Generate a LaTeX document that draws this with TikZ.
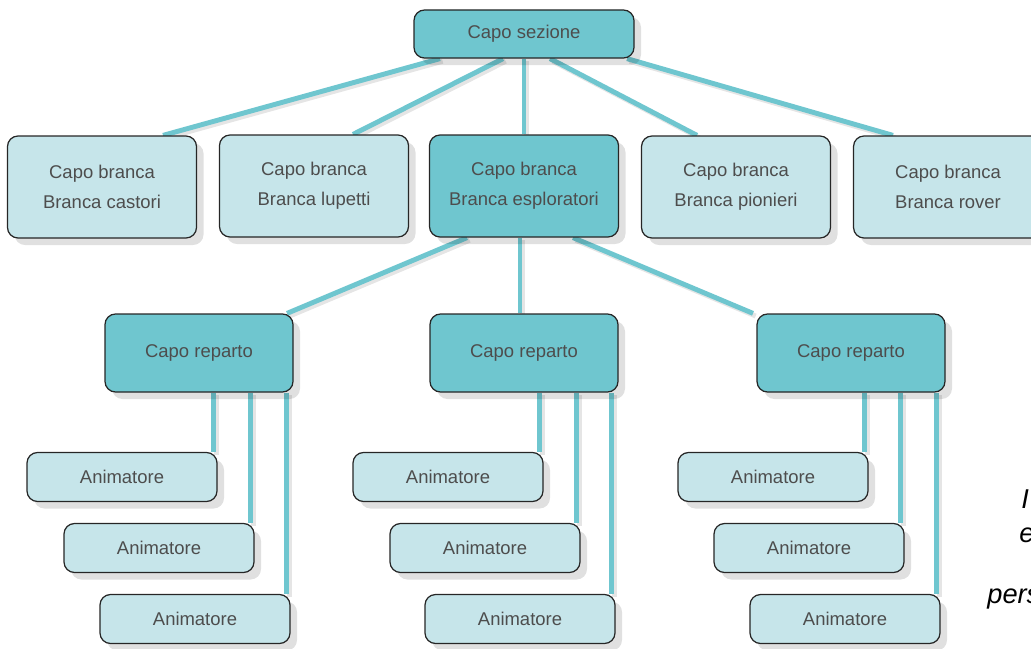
\documentclass[tikz,border=0pt]{standalone}
\usepackage{fontspec}
\setmainfont{Liberation Sans}
\usetikzlibrary{positioning, calc, shadows, backgrounds}
\definecolor{tealdark}{HTML}{6FC6CF}
\definecolor{teallight}{HTML}{C6E5EA}
\definecolor{textgray}{HTML}{4D4D4D}
\tikzset{
every node/.style = {font = \fontsize{10.5}{17}\selectfont, text = textgray},
box/.style = {rectangle, draw = black!85, line width = 0.7pt, rounded corners = 6pt,
	align = center, inner sep = 2pt,
	drop shadow = {shadow xshift = 4pt, shadow yshift = -4pt, fill = black, opacity = 0.12}},
sezione/.style = {box, fill = tealdark, minimum width = 4.4cm, minimum height = 0.96cm},
branca/.style = {box, fill = teallight, minimum width = 3.78cm, minimum height = 2.04cm},
reparto/.style = {box, fill = tealdark, minimum width = 3.76cm, minimum height = 1.56cm},
animatore/.style = {box, fill = teallight, minimum width = 3.8cm, minimum height = 0.98cm},
note/.style = {anchor = base west, inner sep = 0pt, text = black,
	font = \fontsize{15.5}{19}\selectfont\itshape},
link/.style = {draw = tealdark, line width = 2.8pt,
	preaction = {draw = black!10, line width = 2.8pt, transform canvas = {shift = {(1.5pt, -1.5pt)}}}}
}

\begin{document}
\begin{tikzpicture}

\useasboundingbox (0, 0) rectangle (20.62, -12.96);

%% Top
\node at (10.48, -0.68) [sezione] (capo) {Capo sezione};

%% Branche
\node at (2.04, -3.74) [branca] (castori) {Capo branca\\Branca castori};
\node at (6.28, -3.72) [branca] (lupetti) {Capo branca\\Branca lupetti};
\node at (10.48, -3.72) [branca, fill = tealdark] (esploratori) {Capo branca\\Branca esploratori};
\node at (14.72, -3.74) [branca] (pionieri) {Capo branca\\Branca pionieri};
\node at (18.96, -3.74) [branca] (rover) {Capo branca\\Branca rover};

%% Reparti
\node at (3.98, -7.06) [reparto] (rep1) {Capo reparto};
\node at (10.48, -7.06) [reparto] (rep2) {Capo reparto};
\node at (17.02, -7.06) [reparto] (rep3) {Capo reparto};

%% Animatori
\node at (2.44, -9.54) [animatore] (an11) {Animatore};
\node at (3.18, -10.96) [animatore] (an12) {Animatore};
\node at (3.9, -12.38) [animatore] (an13) {Animatore};
\node at (8.96, -9.54) [animatore] (an21) {Animatore};
\node at (9.7, -10.96) [animatore] (an22) {Animatore};
\node at (10.4, -12.38) [animatore] (an23) {Animatore};
\node at (15.46, -9.54) [animatore] (an31) {Animatore};
\node at (16.18, -10.96) [animatore] (an32) {Animatore};
\node at (16.9, -12.38) [animatore] (an33) {Animatore};

%% Text at the right edge
\node at (20.42, -10.16) [note] (noteA) {I};
\node at (20.38, -10.84) [note] (noteB) {e};
\node at (19.74, -12.06) [note] (noteC) {pers};

%% The links
\begin{scope}[on background layer]
\draw [link] ([xshift = -1.68cm]capo.south) -- ([xshift = 1.22cm]castori.north);
\draw [link] ([xshift = -0.42cm]capo.south) -- ([xshift = 0.78cm]lupetti.north);
\draw [link] (capo.south) -- (esploratori.north);
\draw [link] ([xshift = 0.52cm]capo.south) -- ([xshift = -0.78cm]pionieri.north);
\draw [link] ([xshift = 2.06cm]capo.south) -- ([xshift = -1.1cm]rover.north);

\draw [link] ([xshift = -1.14cm]esploratori.south) -- ([xshift = 1.76cm]rep1.north);
\draw [link] ([xshift = -0.08cm]esploratori.south) -- ([xshift = -0.08cm]rep2.north);
\draw [link] ([xshift = 0.98cm]esploratori.south) -- ([xshift = -1.96cm]rep3.north);

\draw [link] ([xshift = -0.08cm]an11.north east |- rep1.south) -- ([xshift = -0.08cm]an11.north east);
\draw [link] ([xshift = -0.08cm]an12.north east |- rep1.south) -- ([xshift = -0.08cm]an12.north east);
\draw [link] ([xshift = -0.08cm]an13.north east |- rep1.south) -- ([xshift = -0.08cm]an13.north east);
\draw [link] ([xshift = -0.08cm]an21.north east |- rep2.south) -- ([xshift = -0.08cm]an21.north east);
\draw [link] ([xshift = -0.08cm]an22.north east |- rep2.south) -- ([xshift = -0.08cm]an22.north east);
\draw [link] ([xshift = -0.08cm]an23.north east |- rep2.south) -- ([xshift = -0.08cm]an23.north east);
\draw [link] ([xshift = -0.08cm]an31.north east |- rep3.south) -- ([xshift = -0.08cm]an31.north east);
\draw [link] ([xshift = -0.08cm]an32.north east |- rep3.south) -- ([xshift = -0.08cm]an32.north east);
\draw [link] ([xshift = -0.08cm]an33.north east |- rep3.south) -- ([xshift = -0.08cm]an33.north east);
\end{scope}

\end{tikzpicture}
\end{document}
